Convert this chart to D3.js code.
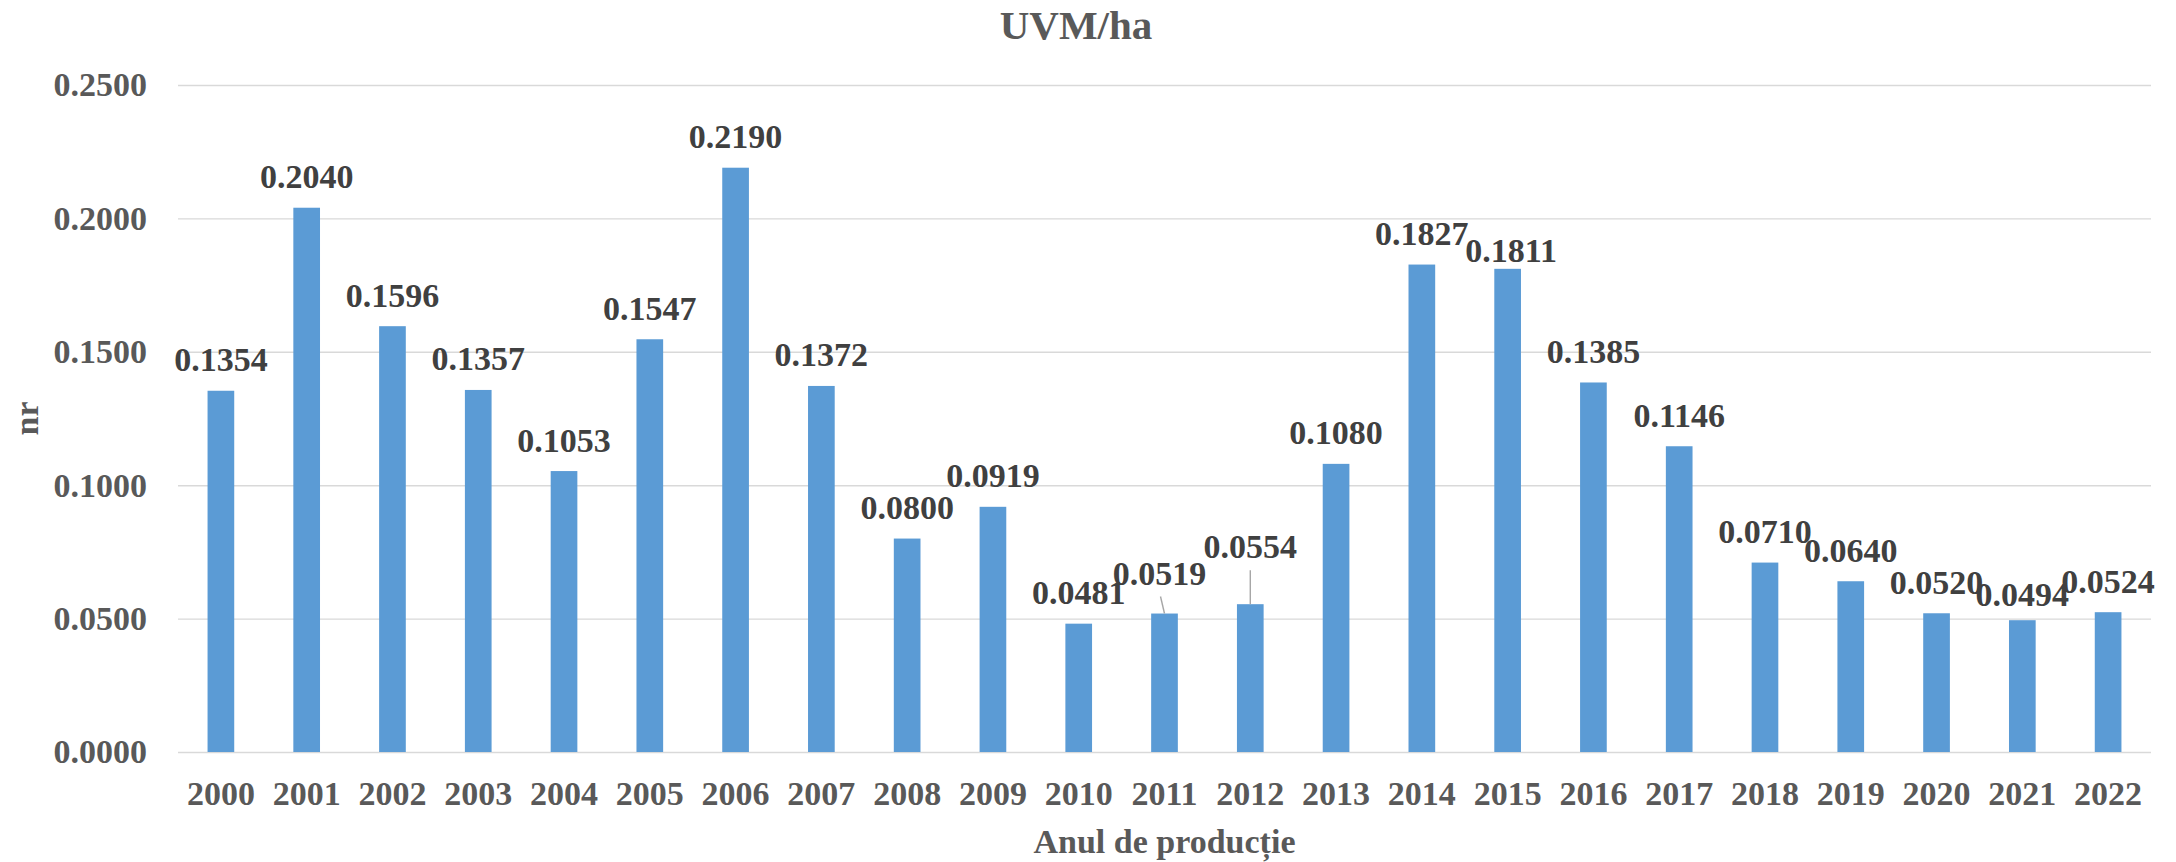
<!DOCTYPE html>
<html>
<head>
<meta charset="utf-8">
<script src="https://cdn.jsdelivr.net/npm/d3@7"></script>
<style>
  body { margin: 0; background: #fff; }
  svg { display: block; font-family: "Liberation Serif", "Times New Roman", serif; font-weight: bold; }
</style>
</head>
<body>
<div id="chart"></div>
<script>
// data
const years = ["2000","2001","2002","2003","2004","2005","2006","2007","2008","2009","2010",
               "2011","2012","2013","2014","2015","2016","2017","2018","2019","2020","2021","2022"];
const values = [0.1354, 0.2040, 0.1596, 0.1357, 0.1053, 0.1547, 0.2190, 0.1372, 0.0800, 0.0919, 0.0481,
                0.0519, 0.0554, 0.1080, 0.1827, 0.1811, 0.1385, 0.1146, 0.0710, 0.0640, 0.0520, 0.0494, 0.0524];
const yTicks = [0, 0.05, 0.10, 0.15, 0.20, 0.25];

// labels that were dragged around in the original (dx, gap above bar top, leader line)
const labelNudge = {
    "2011": { dx: -5, gap: 29, leader: true },
    "2012": { dx: 0, gap: 46, leader: true },
    "2015": { dx: 3.5, gap: 7 },
    "2021": { dx: 0, gap: 14 }
};

const W = 2176, H = 862;
const MARGIN = { LEFT: 178, RIGHT: 25, TOP: 85, BOTTOM: 110 };
const FONT = '"Liberation Serif", "Times New Roman", serif';
const TICK_COLOR = "#595959";
const LABEL_COLOR = "#404040";

const svg = d3.select("#chart")
    .append("svg")
    .attr("width", W)
    .attr("height", H);

svg.append("rect").attr("width", W).attr("height", H).attr("fill", "#fff");

const x = d3.scaleBand()
    .domain(years)
    .range([MARGIN.LEFT, W - MARGIN.RIGHT])
    .paddingInner(0.689)
    .paddingOuter(0.3445);

const y = d3.scaleLinear()
    .domain([0, 0.25])
    .range([H - MARGIN.BOTTOM, MARGIN.TOP]);

const plotW = W - MARGIN.RIGHT - MARGIN.LEFT;

// y grid + tick labels
const yAxis = d3.axisLeft(y)
    .tickValues(yTicks)
    .tickFormat(d3.format(".4f"))
    .tickSizeInner(-plotW)
    .tickSizeOuter(0)
    .tickPadding(31);

const gy = svg.append("g")
    .attr("transform", `translate(${MARGIN.LEFT},0)`)
    .call(yAxis)
    .attr("font-family", FONT)
    .attr("font-size", 34);
gy.select(".domain").remove();
gy.selectAll("line")
    .attr("stroke", "#D9D9D9")
    .attr("stroke-width", 1.4);
gy.selectAll("text")
    .attr("fill", TICK_COLOR);

// x labels
const xAxis = d3.axisBottom(x)
    .tickSize(0)
    .tickPadding(29);

const gx = svg.append("g")
    .attr("transform", `translate(0,${y(0)})`)
    .call(xAxis)
    .attr("font-family", FONT)
    .attr("font-size", 34);
gx.select(".domain").remove();
gx.selectAll("text")
    .attr("fill", TICK_COLOR);

const data = years.map((yr, i) => ({ year: yr, value: values[i] }));

// bars
svg.selectAll(".bar")
    .data(data)
    .enter().append("rect")
    .attr("class", "bar")
    .attr("x", d => x(d.year))
    .attr("y", d => y(d.value))
    .attr("width", x.bandwidth())
    .attr("height", d => y(0) - y(d.value))
    .attr("fill", "#5B9BD5");

// leader lines
svg.selectAll(".leader")
    .data(data.filter(d => labelNudge[d.year] && labelNudge[d.year].leader))
    .enter().append("line")
    .attr("class", "leader")
    .attr("x1", d => {
        const cx = x(d.year) + x.bandwidth() / 2;
        const lx = cx + labelNudge[d.year].dx;
        return lx + (cx - lx) * 0.2;
    })
    .attr("y1", d => y(d.value) - labelNudge[d.year].gap + 12)
    .attr("x2", d => x(d.year) + x.bandwidth() / 2)
    .attr("y2", d => y(d.value))
    .attr("stroke", "#A6A6A6")
    .attr("stroke-width", 1.4);

// value labels
svg.selectAll(".val")
    .data(data)
    .enter().append("text")
    .attr("class", "val")
    .attr("x", d => x(d.year) + x.bandwidth() / 2 + (labelNudge[d.year] ? labelNudge[d.year].dx : 0))
    .attr("y", d => y(d.value) - (labelNudge[d.year] ? labelNudge[d.year].gap : 19.5))
    .attr("text-anchor", "middle")
    .attr("font-size", "34px")
    .attr("fill", LABEL_COLOR)
    .text(d => d3.format(".4f")(d.value));

// title
svg.append("text")
    .attr("x", 1076)
    .attr("y", 39)
    .attr("text-anchor", "middle")
    .attr("font-size", "41px")
    .attr("fill", TICK_COLOR)
    .text("UVM/ha");

// axis titles
svg.append("text")
    .attr("x", (MARGIN.LEFT + W - MARGIN.RIGHT) / 2)
    .attr("y", 853)
    .attr("text-anchor", "middle")
    .attr("font-size", "34px")
    .attr("fill", TICK_COLOR)
    .text("Anul de producție");

svg.append("text")
    .attr("transform", `translate(38, ${(y(0) + y(0.25)) / 2}) rotate(-90)`)
    .attr("text-anchor", "middle")
    .attr("font-size", "34px")
    .attr("fill", TICK_COLOR)
    .text("nr");
</script>
</body>
</html>
